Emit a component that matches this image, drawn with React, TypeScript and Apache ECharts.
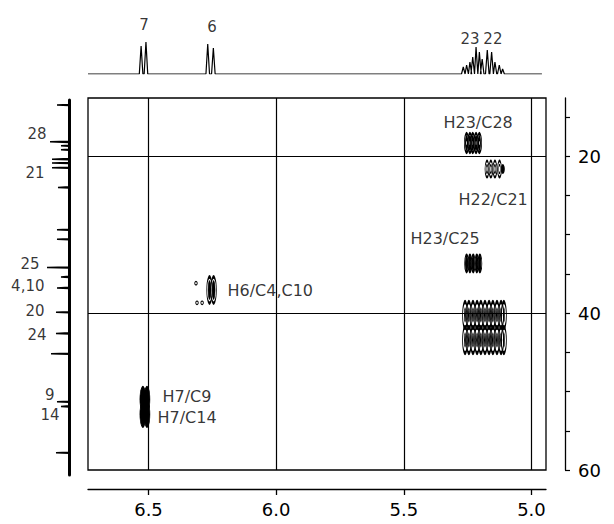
import React, { useEffect, useRef } from 'react';
import * as echarts from 'echarts';

// ---- 1H projection (top trace) ----
const protonPeakPpm = [6.529, 6.51, 6.268, 6.246, 5.267, 5.254, 5.241, 5.23, 5.217, 5.204, 5.193, 5.173, 5.156, 5.143, 5.126, 5.113];
const protonPeakHeight = [28, 32, 30, 26, 7, 9, 12, 17, 27, 22, 15, 24, 22, 12, 9, 5];
const protonLabels = ['7', '6', '23', '22'];
const protonLabelPpm = [6.518, 6.251, 5.241, 5.151];
const protonLabelHeight = [49, 47, 35, 35];

// ---- 13C projection (left trace) ----
const carbonPeakPpm = [13.5, 18.2, 18.7, 19.2, 20.4, 20.9, 21.5, 24.0, 29.4, 30.6, 34.2, 35.4, 36.8, 39.9, 42.6, 45.2, 51.3, 51.9, 57.8];
const carbonPeakHeight = [12, 19, 8, 8, 17, 17, 17, 11, 12, 12, 22, 8, 12, 13, 13, 18, 12, 8, 13];
const carbonLabels = ['28', '21', '25', '4,10', '20', '24', '9', '14'];
const carbonLabelPpm = [17.2, 22.17, 33.76, 36.56, 39.75, 42.8, 50.45, 52.99];
const carbonLabelHeight = [22, 24, 29, 24, 24, 22, 14, 9];

// ---- cross peaks (1H ppm, 13C ppm) ----
const h23c28H = [5.254, 5.241, 5.23, 5.217, 5.204];
const h23c28C = 18.34;
const h22c21H = [5.174, 5.159, 5.143, 5.125];
const h22c21Minor = [5.112];
const h22c21C = 21.66;
const h23c25H = [5.254, 5.241, 5.228, 5.214, 5.202];
const h23c25C = 33.69;
const h6H = [6.261, 6.245];
const h6C = 37.07;
const h6MinorH = [6.314, 6.31, 6.29];
const h6MinorC = [36.2, 38.7, 38.7];
const h7H = [6.522, 6.506];
const h7C = [51.0, 52.9];
const blobH = [5.26, 5.245, 5.229, 5.213, 5.198, 5.182, 5.166, 5.151, 5.135, 5.119, 5.108];
const blobC = [40.25, 43.44];

const crossLabels = ['H23/C28', 'H22/C21', 'H23/C25', 'H6/C4,C10', 'H7/C9', 'H7/C14'];
const crossLabelH = [5.3467, 5.2879, 5.4759, 6.1926, 6.4471, 6.4667];
const crossLabelC = [15.67, 25.48, 30.57, 37.07, 50.7, 53.25];

// ---- axes ----
const xTicks = [5.0, 5.5, 6.0, 6.5];
const yMinorTicks = [15, 20, 25, 30, 35, 40, 45, 50, 55, 60];
const yLabels = [20, 40, 60];
const gridLinesH = [6.5, 6.0, 5.5, 5.0];
const gridLinesC = [20, 40];

const X_MIN = 4.943;
const X_MAX = 6.737;
const Y_MIN = 12.61;
const Y_MAX = 60;
const FONT = 'DejaVu Sans';

function buildOption() {
  const topData: number[][] = [[X_MAX, 0]];
  const w = 0.007;
  protonPeakPpm.forEach((p, i) => {
    topData.push([p + w, 0], [p, protonPeakHeight[i]], [p - w, 0]);
  });
  topData.push([4.959, 0]);

  const leftData: number[][] = [[0, 12.866]];
  const d = 0.07;
  carbonPeakPpm.forEach((p, i) => {
    leftData.push([0, p - d], [carbonPeakHeight[i], p], [0, p + d]);
  });
  leftData.push([0, 60.637]);

  const black = '#000';
  const ring = (data: number[][], size: number[], bw: number, fill = false, z = 3) => ({
    type: 'scatter',
    xAxisIndex: 0,
    yAxisIndex: 0,
    symbol: 'circle',
    symbolSize: size,
    z,
    silent: true,
    itemStyle: {
      color: fill ? black : 'rgba(0,0,0,0)',
      borderColor: black,
      borderWidth: bw,
      opacity: 1,
    },
    data,
  });

  const textStyle = { color: black, fontFamily: FONT };

  const series: any[] = [
    {
      type: 'line',
      xAxisIndex: 2,
      yAxisIndex: 2,
      data: topData,
      symbol: 'none',
      lineStyle: { color: black, width: 1.2 },
      silent: true,
    },
    {
      type: 'scatter',
      xAxisIndex: 2,
      yAxisIndex: 2,
      symbolSize: 1,
      itemStyle: { color: 'rgba(0,0,0,0)' },
      label: { show: true, position: 'inside', formatter: (p: any) => p.name, fontSize: 15, ...textStyle },
      data: protonLabels.map((n, i) => ({ name: n, value: [protonLabelPpm[i], protonLabelHeight[i]] })),
    },
    {
      type: 'line',
      xAxisIndex: 1,
      yAxisIndex: 1,
      data: leftData,
      symbol: 'none',
      lineStyle: { color: black, width: 1.5 },
      silent: true,
    },
    {
      type: 'scatter',
      xAxisIndex: 1,
      yAxisIndex: 1,
      symbolSize: 1,
      itemStyle: { color: 'rgba(0,0,0,0)' },
      label: { show: true, position: 'left', distance: 0, formatter: (p: any) => p.name, fontSize: 15, ...textStyle },
      data: carbonLabels.map((n, i) => ({ name: n, value: [carbonLabelHeight[i], carbonLabelPpm[i]] })),
    },
    {
      type: 'scatter',
      xAxisIndex: 0,
      yAxisIndex: 0,
      symbolSize: 1,
      itemStyle: { color: 'rgba(0,0,0,0)' },
      label: { show: true, position: 'right', distance: 0, formatter: (p: any) => p.name, fontSize: 16, ...textStyle },
      data: crossLabels.map((n, i) => ({ name: n, value: [crossLabelH[i], crossLabelC[i]] })),
      markLine: {
        silent: true,
        symbol: ['none', 'none'],
        label: { show: false },
        lineStyle: { color: black, width: 1.2, type: 'solid' },
        data: [
          ...gridLinesH.map((v) => ({ xAxis: v })),
          ...gridLinesC.map((v) => ({ yAxis: v })),
        ],
      },
    },
    // H23/C28
    ring(h23c28H.map((h) => [h, h23c28C]), [4.5, 19], 1.5),
    ring(h23c28H.map((h) => [h, h23c28C]), [2, 10], 1.2),
    // H22/C21
    ring(h22c21H.map((h) => [h, h22c21C]), [4, 16], 1.4),
    ring(h22c21H.map((h) => [h, h22c21C]), [1.8, 8], 1.1),
    ring(h22c21Minor.map((h) => [h, h22c21C]), [3, 8], 1.2, true),
    // H23/C25
    ring(h23c25H.map((h) => [h, h23c25C]), [4, 17], 1.4),
    ring(h23c25H.map((h) => [h, h23c25C]), [2, 12], 1, true),
    // H6/C4,C10
    ring(h6H.map((h) => [h, h6C]), [5.5, 26], 1.6),
    ring(h6H.map((h) => [h, h6C]), [3, 17], 1, true),
    ring(h6MinorH.map((h, i) => [h, h6MinorC[i]]), [2.5, 3.5], 1),
    // H7/C9, H7/C14
    ring(h7H.flatMap((h) => h7C.map((c) => [h, c])), [6, 25], 1, true),
    // H23,H22 / C20,C24
    ring(blobH.flatMap((h) => blobC.map((c) => [h, c])), [5, 26], 1.8),
    ring(blobH.flatMap((h) => blobC.map((c) => [h, c])), [1.6, 13], 0.8, true),
  ];

  return {
    animation: false,
    backgroundColor: '#fff',
    grid: [
      { left: 88, top: 98, width: 458, height: 372, show: true, borderColor: black, borderWidth: 1.3, backgroundColor: 'rgba(0,0,0,0)' },
      { left: 20, top: 100, width: 49, height: 375 },
      { left: 88, top: 10, width: 458, height: 64 },
    ],
    xAxis: [
      {
        gridIndex: 0,
        type: 'value',
        min: X_MIN,
        max: X_MAX,
        inverse: true,
        position: 'bottom',
        offset: 19,
        axisLine: { show: true, lineStyle: { color: black, width: 1.3 } },
        axisTick: { show: true, customValues: xTicks, length: 6, lineStyle: { color: black, width: 1.3 } },
        axisLabel: {
          show: true,
          customValues: xTicks,
          formatter: (v: number) => v.toFixed(1),
          margin: 11,
          fontSize: 18,
          ...textStyle,
        },
        splitLine: { show: false },
      },
      { gridIndex: 1, type: 'value', min: 0, max: 49, inverse: true, show: false },
      { gridIndex: 2, type: 'value', min: X_MIN, max: X_MAX, inverse: true, show: false },
    ],
    yAxis: [
      {
        gridIndex: 0,
        type: 'value',
        min: Y_MIN,
        max: Y_MAX,
        inverse: true,
        position: 'right',
        offset: 19,
        axisLine: { show: true, lineStyle: { color: black, width: 1.3 } },
        axisTick: { show: true, customValues: yMinorTicks, length: 5, lineStyle: { color: black, width: 1.2 } },
        axisLabel: {
          show: true,
          customValues: yLabels,
          margin: 13,
          fontSize: 18,
          ...textStyle,
        },
        splitLine: { show: false },
      },
      {
        gridIndex: 1,
        type: 'value',
        min: 12.866,
        max: 60.637,
        inverse: true,
        position: 'right',
        axisLine: { show: true, lineStyle: { color: black, width: 3 } },
        axisTick: { show: false },
        axisLabel: { show: false },
        splitLine: { show: false },
      },
      { gridIndex: 2, type: 'value', min: 0, max: 64, show: false },
    ],
    series,
  };
}

export default function App() {
  const ref = useRef<HTMLDivElement>(null);
  useEffect(() => {
    if (!ref.current) return;
    const chart = echarts.init(ref.current, null, { renderer: 'svg' });
    chart.setOption(buildOption() as any);
    return () => chart.dispose();
  }, []);
  return (
    <div
      ref={ref}
      style={{ position: 'fixed', left: 0, top: 0, width: 614, height: 524, background: '#fff' }}
    />
  );
}
